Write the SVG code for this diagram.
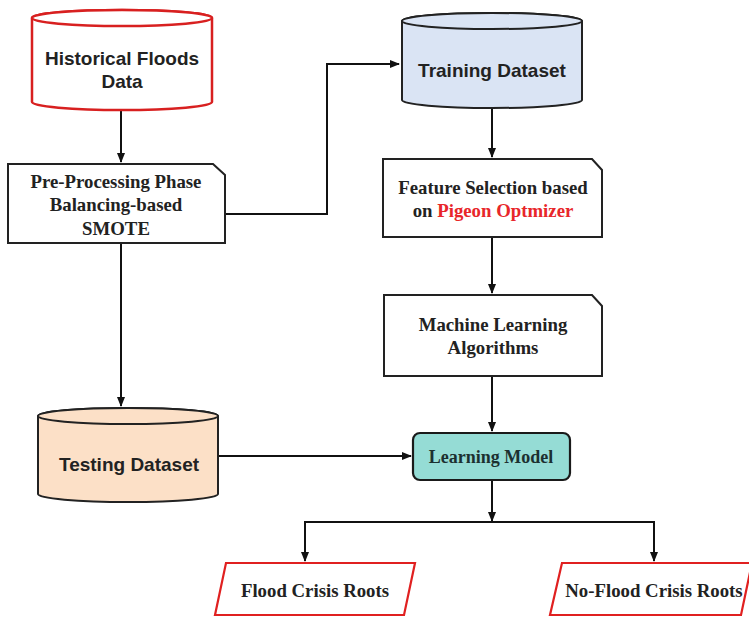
<svg xmlns="http://www.w3.org/2000/svg" width="749" height="617" viewBox="0 0 749 617">
<defs>
<style>
.sans{font-family:"Liberation Sans",Arial,sans-serif;font-weight:bold;font-size:19px;fill:#222;text-anchor:middle}
.serif{font-family:"Liberation Serif","Times New Roman",serif;font-weight:bold;font-size:18.8px;fill:#222;text-anchor:middle}
.box{fill:#fff;stroke:#222;stroke-width:2}
.cyl{stroke:#222;stroke-width:2}
.redcyl{fill:#fff;stroke:#d82020;stroke-width:2.5}
.red{fill:#fff;stroke:#e02020;stroke-width:2.2}
.conn{fill:none;stroke:#111;stroke-width:2}
</style>
<marker id="arr" markerWidth="10" markerHeight="10" refX="9" refY="5" orient="auto" markerUnits="userSpaceOnUse">
<path d="M0,1 L10,5 L0,9 Z" fill="#111"/>
</marker>
</defs>
<rect width="749" height="617" fill="#fff"/>

<g id="connectors">
<line class="conn" x1="121" y1="110" x2="121" y2="162" marker-end="url(#arr)"/>
<polyline class="conn" points="225,214 327,214 327,64 399,64" marker-end="url(#arr)"/>
<line class="conn" x1="121" y1="243" x2="121" y2="406" marker-end="url(#arr)"/>
<line class="conn" x1="492" y1="108" x2="492" y2="157" marker-end="url(#arr)"/>
<line class="conn" x1="492" y1="237" x2="492" y2="293" marker-end="url(#arr)"/>
<line class="conn" x1="492" y1="376" x2="492" y2="431" marker-end="url(#arr)"/>
<line class="conn" x1="218" y1="456" x2="411" y2="456" marker-end="url(#arr)"/>
<line class="conn" x1="492" y1="480" x2="492" y2="521" marker-end="url(#arr)"/>
<line class="conn" x1="304" y1="522" x2="655" y2="522"/>
<line class="conn" x1="305" y1="521" x2="305" y2="561" marker-end="url(#arr)"/>
<line class="conn" x1="654" y1="521" x2="654" y2="561" marker-end="url(#arr)"/>
</g>

<g id="historical">
<path class="redcyl" d="M32,18 L32,102 A90,8 0 0 0 212,102 L212,18 A90,8 0 0 0 32,18 Z"/>
<ellipse class="redcyl" cx="122" cy="18" rx="90" ry="8"/>
<text class="sans" x="122" y="65">Historical Floods</text>
<text class="sans" x="122" y="88">Data</text>
</g>

<g id="preprocessing">
<path class="box" d="M8,164 L213,164 L225,175 L225,243 L8,243 Z"/>
<text class="serif" x="116" y="188">Pre-Processing Phase</text>
<text class="serif" x="116" y="211">Balancing-based</text>
<text class="serif" x="116" y="235">SMOTE</text>
</g>

<g id="training">
<path class="cyl" fill="#dae4f4" d="M402,21 L402,100 A90,8 0 0 0 582,100 L582,21 A90,8 0 0 0 402,21 Z"/>
<ellipse class="cyl" cx="492" cy="21" rx="90" ry="8" fill="#dae4f4"/>
<text class="sans" x="492" y="77">Training Dataset</text>
</g>

<g id="feature">
<path class="box" d="M383,159 L592,159 L602,170 L602,237 L383,237 Z"/>
<text class="serif" x="493" y="194">Feature Selection based</text>
<text class="serif" x="493" y="217">on <tspan fill="#e8262a">Pigeon Optmizer</tspan></text>
</g>

<g id="machine">
<path class="box" d="M384,295 L592,295 L602,306 L602,376 L384,376 Z"/>
<text class="serif" x="493" y="331">Machine Learning</text>
<text class="serif" x="493" y="354">Algorithms</text>
</g>

<g id="testing">
<path class="cyl" fill="#fce0c7" d="M38,416 L38,494 A90,8 0 0 0 218,494 L218,416 A90,8 0 0 0 38,416 Z"/>
<ellipse class="cyl" cx="128" cy="416" rx="90" ry="8" fill="#fce0c7"/>
<text class="sans" x="129" y="471">Testing Dataset</text>
</g>

<g id="learning">
<rect x="413" y="433" width="157" height="47" rx="7" fill="#95dcd5" stroke="#1a1a1a" stroke-width="2.2"/>
<text class="serif" x="491" y="463" style="font-size:18px;fill:#1c3030">Learning Model</text>
</g>

<g id="flood">
<path class="red" d="M226,563 L415,563 L404,615 L215,615 Z"/>
<text class="serif" x="315" y="597">Flood Crisis Roots</text>
</g>

<g id="noflood">
<path class="red" d="M562,563 L752,563 L741,615 L550,615 Z"/>
<text class="serif" x="654" y="597">No-Flood Crisis Roots</text>
</g>
</svg>
